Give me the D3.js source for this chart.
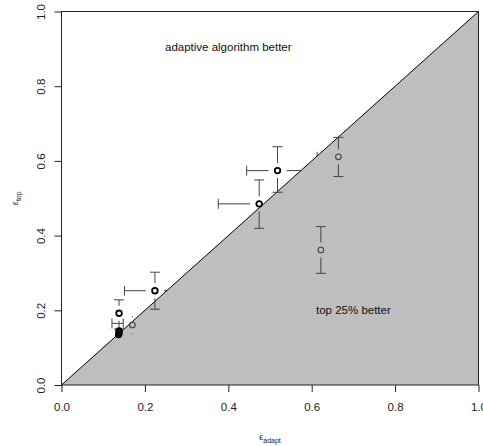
<!DOCTYPE html>
<html lang="en">
<head>
    <meta charset="UTF-8">
    <title>Adaptive vs top 25%</title>
    <script src="https://d3js.org/d3.v7.min.js"></script>
    <style>
        body { margin: 0; background: white; }
        svg { font-family: "Liberation Sans", Arial, sans-serif; }
    </style>
</head>
<body>
    <div id="chart"></div>
    <script>
        // Bold points (drawn thick, black)
        const boldX   = [0.518, 0.474, 0.224, 0.138, 0.138, 0.138, 0.137];
        const boldY   = [0.574, 0.485, 0.2525, 0.192, 0.145, 0.140, 0.135];
        const boldYLo = [0.516, 0.4195, 0.203, 0.150, null, null, null];
        const boldYHi = [0.638, 0.549, 0.302, 0.228, null, null, null];
        const boldXLo = [0.444, 0.376, 0.151, null, null, null, null];
        const boldXHi = [0.600, 0.570, 0.297, null, null, null, null];

        // Thin grey points
        const greyX   = [0.664, 0.622, 0.170];
        const greyY   = [0.611, 0.3614, 0.1606];
        const greyYLo = [0.558, 0.299, 0.137];
        const greyYHi = [0.663, 0.424, 0.183];
        const greyXLo = [0.613, 0.550, null];
        const greyXHi = [0.715, 0.690, null];

        // a lone horizontal interval in the lower-left cluster
        const loneBarY  = [0.165];
        const loneBarLo = [0.121];
        const loneBarHi = [0.148];

        const xTicks = [0, 0.2, 0.4, 0.6, 0.8, 1.0];
        const yTicks = [0, 0.2, 0.4, 0.6, 0.8, 1.0];

        const W = 483, H = 446;
        const svg = d3.select("#chart").append("svg")
            .attr("width", W).attr("height", H);

        const x = d3.scaleLinear().domain([0, 1]).range([61.5, 478.5]);
        const y = d3.scaleLinear().domain([0, 1]).range([385, 11.5]);

        const bold = boldX.map((v, i) => ({x: v, y: boldY[i], ylo: boldYLo[i], yhi: boldYHi[i], xlo: boldXLo[i], xhi: boldXHi[i], kind: "bold"}));
        const grey = greyX.map((v, i) => ({x: v, y: greyY[i], ylo: greyYLo[i], yhi: greyYHi[i], xlo: greyXLo[i], xhi: greyXHi[i], kind: "grey"}));
        const all = bold.concat(grey);

        const barColor = "#444";
        const cap = 5, hgap = 9, vgap = 7.5;

        // horizontal error bars (partly hidden under the grey triangle)
        const hb = svg.append("g").attr("stroke", barColor).attr("stroke-width", 1).attr("fill", "none");
        all.filter(d => d.xlo != null).forEach(d => {
            const cx = x(d.x), cy = y(d.y);
            hb.append("line").attr("x1", x(d.xlo)).attr("x2", cx - hgap).attr("y1", cy).attr("y2", cy);
            hb.append("line").attr("x1", x(d.xlo)).attr("x2", x(d.xlo)).attr("y1", cy - cap).attr("y2", cy + cap);
            hb.append("line").attr("x1", cx + hgap).attr("x2", x(d.xhi)).attr("y1", cy).attr("y2", cy);
            hb.append("line").attr("x1", x(d.xhi)).attr("x2", x(d.xhi)).attr("y1", cy - cap).attr("y2", cy + cap);
        });

        // grey region: top 25% better
        svg.append("path")
            .attr("d", d3.line()([[x(0), y(0)], [x(1), y(0)], [x(1), y(1)]]) + "Z")
            .attr("fill", "#bebebe");

        // diagonal
        svg.append("line")
            .attr("x1", x(0)).attr("y1", y(0)).attr("x2", x(1)).attr("y2", y(1))
            .attr("stroke", "black").attr("stroke-width", 1);

        // lone horizontal interval
        loneBarY.forEach((v, i) => {
            const cy = y(v);
            hb.clone(false);
            const g = svg.append("g").attr("stroke", barColor).attr("stroke-width", 1);
            g.append("line").attr("x1", x(loneBarLo[i])).attr("x2", x(loneBarHi[i])).attr("y1", cy).attr("y2", cy);
            g.append("line").attr("x1", x(loneBarLo[i])).attr("x2", x(loneBarLo[i])).attr("y1", cy - cap).attr("y2", cy + cap);
            g.append("line").attr("x1", x(loneBarHi[i])).attr("x2", x(loneBarHi[i])).attr("y1", cy - cap).attr("y2", cy + cap);
        });

        // vertical error bars
        const vb = svg.append("g").attr("stroke", barColor).attr("stroke-width", 1);
        all.filter(d => d.ylo != null).forEach(d => {
            const cx = x(d.x), cy = y(d.y);
            [[y(d.yhi), cy - vgap], [y(d.ylo), cy + vgap]].forEach(([end, start]) => {
                if (Math.abs(end - start) > 2 && Math.sign(end - cy) === Math.sign(end - start)) {
                    vb.append("line").attr("x1", cx).attr("x2", cx).attr("y1", start).attr("y2", end);
                    vb.append("line").attr("x1", cx - cap).attr("x2", cx + cap).attr("y1", end).attr("y2", end);
                } else {
                    vb.append("line").attr("x1", cx).attr("x2", cx).attr("y1", end - 0.7).attr("y2", end + 0.7)
                        .attr("stroke", "#777");
                }
            });
        });

        // points
        svg.append("g").selectAll("circle")
            .data(all)
            .join("circle")
            .attr("cx", d => x(d.x))
            .attr("cy", d => y(d.y))
            .attr("r", 2.8)
            .attr("fill", "none")
            .attr("stroke", d => d.kind === "bold" ? "black" : "#444")
            .attr("stroke-width", d => d.kind === "bold" ? 1.8 : 1.1);

        // plot box
        svg.append("rect")
            .attr("x", x(0)).attr("y", y(1))
            .attr("width", x(1) - x(0)).attr("height", y(0) - y(1))
            .attr("fill", "none").attr("stroke", "#222").attr("stroke-width", 1);

        // annotations
        svg.append("text").attr("x", x(0.40)).attr("y", y(0.895))
            .attr("text-anchor", "middle").attr("font-size", 11.5).attr("fill", "#111")
            .text("adaptive algorithm better");
        svg.append("text").attr("x", x(0.70)).attr("y", y(0.19))
            .attr("text-anchor", "middle").attr("font-size", 11.5).attr("fill", "#111")
            .text("top 25% better");

        // axes
        const fmt = d3.format(".1f");
        const xAxis = svg.append("g")
            .attr("transform", `translate(0, ${y(0)})`)
            .call(d3.axisBottom(x).tickValues(xTicks).tickFormat(fmt).tickSize(7).tickPadding(11));
        xAxis.select(".domain").remove();
        xAxis.selectAll("text").attr("font-size", 11.5).attr("fill", "#222").attr("font-family", null);
        xAxis.selectAll("line").attr("stroke", "#222");

        const yAxis = svg.append("g")
            .attr("transform", `translate(${x(0)}, 0)`)
            .call(d3.axisLeft(y).tickValues(yTicks).tickFormat(fmt).tickSize(7));
        yAxis.select(".domain").remove();
        yAxis.selectAll("line").attr("stroke", "#222");
        yAxis.selectAll("text")
            .attr("transform", "rotate(-90)")
            .attr("x", 0).attr("y", -17).attr("dy", null)
            .attr("text-anchor", "middle")
            .attr("font-size", 11.5).attr("fill", "#222").attr("font-family", null);

        // axis titles
        const xt = svg.append("text").attr("x", x(0.5)).attr("y", 440)
            .attr("text-anchor", "middle").attr("fill", "#222");
        xt.append("tspan").attr("font-size", 9).text("ε");
        xt.append("tspan").attr("font-size", 7).attr("dy", 3).text("adapt");

        const yt = svg.append("text")
            .attr("transform", `translate(18, ${y(0.5)}) rotate(-90)`)
            .attr("text-anchor", "middle").attr("fill", "#222");
        yt.append("tspan").attr("font-size", 9).text("ε");
        yt.append("tspan").attr("font-size", 7).attr("dy", 3).text("top");
    </script>
</body>
</html>
